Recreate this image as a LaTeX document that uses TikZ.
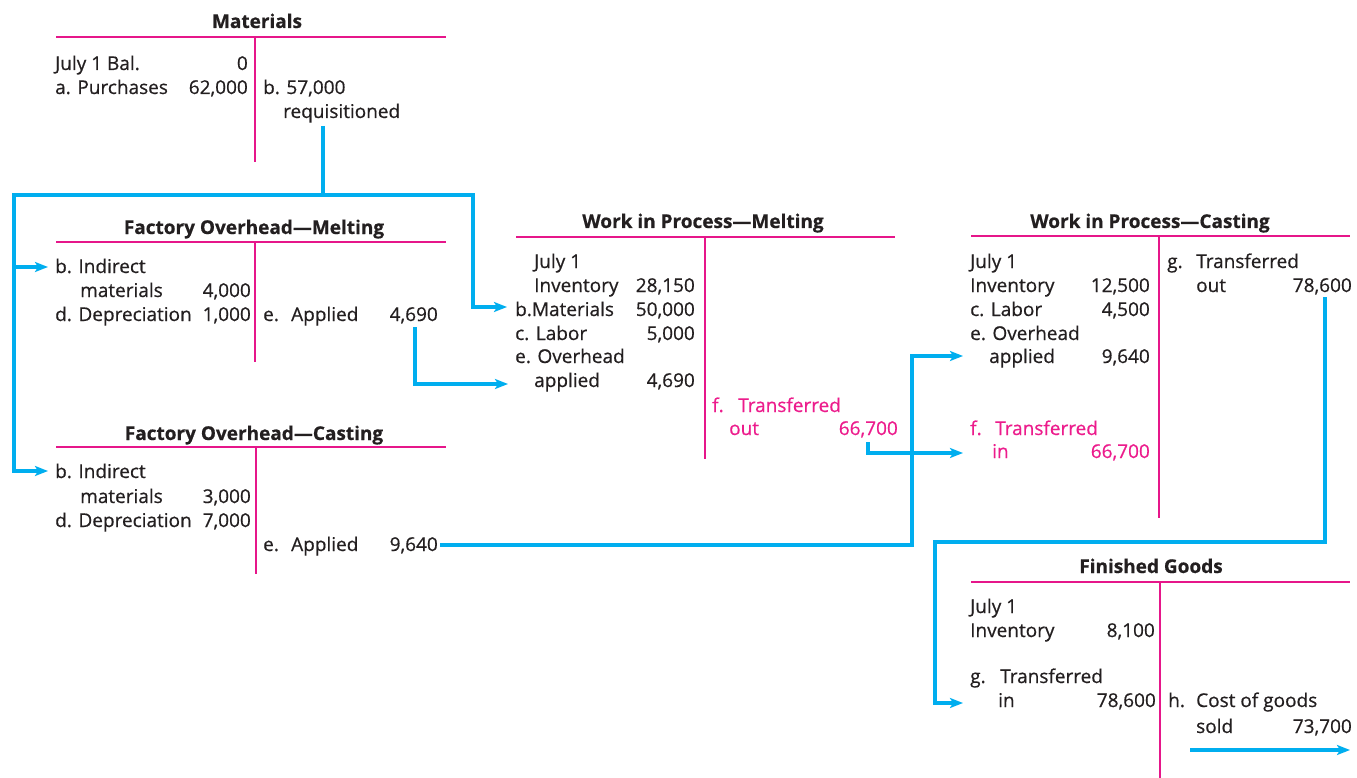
\documentclass[tikz,border=0pt]{standalone}
\usepackage{fontspec}
\setmainfont{Open Sans}[RawFeature={embolden=0.6}]
\usetikzlibrary{arrows.meta}
\definecolor{flow}{HTML}{00AEEF}
\definecolor{rulec}{HTML}{E6168A}
\definecolor{ink}{HTML}{231F20}
\definecolor{pinktxt}{HTML}{EC1C8C}
\newcommand{\lb}[2]{\makebox[#1pt][l]{#2}}
\newcommand{\fs}{\fontsize{19}{22}\selectfont}
\begin{document}
\begin{tikzpicture}[x=1pt,y=-1pt,
  t/.style={anchor=base west,inner sep=0pt,text=ink,font=\fs},
  n/.style={anchor=base east,inner sep=0pt,text=ink,font=\fs},
  hd/.style={anchor=base,inner sep=0pt,text=ink,font=\fs\bfseries},
  pk/.style={text=pinktxt},
  tline/.style={draw=rulec,line width=1.1pt},
  flowline/.style={draw=flow,line width=3.4pt},
  flowarrow/.style={flowline,-{Stealth[length=13pt,width=10pt,inset=3pt]}}
]
\useasboundingbox (0,0) rectangle (1357,778);

% ---------- Materials
\node[hd] (mH) at (257,28) {Materials};
\draw[tline] (56,37) -- (446,37);
\draw[tline] (255,37) -- (255,162);
\node[t] (m1) at (55,70) {July 1 Bal.};
\node[n] (m1n) at (248,70) {0};
\node[t] (m2) at (55,94) {a. Purchases};
\node[n] (m2n) at (248,94) {62,000};
\node[t] (m3) at (263,94) {b. 57,000};
\node[t] (m4) at (283,118) {requisitioned};

% ---------- Factory Overhead - Melting
\node[hd] (fmH) at (254,234) {Factory Overhead—Melting};
\draw[tline] (56,242) -- (446,242);
\draw[tline] (255,242) -- (255,362);
\node[t] (fm1) at (55,273) {b. Indirect};
\node[t] (fm2) at (80,297) {materials};
\node[n] (fm2n) at (251,297) {4,000};
\node[t] (fm3) at (55,321) {d. Depreciation};
\node[n] (fm3n) at (251,321) {1,000};
\node[t] (fm4) at (263,321) {\lb{28}{e.}Applied};
\node[n] (fm4n) at (438,321) {4,690};

% ---------- Factory Overhead - Casting
\node[hd] (fcH) at (254,440) {Factory Overhead—Casting};
\draw[tline] (56,447) -- (446,447);
\draw[tline] (256,447) -- (256,574);
\node[t] (fc1) at (55,478) {b. Indirect};
\node[t] (fc2) at (80,503) {materials};
\node[n] (fc2n) at (251,503) {3,000};
\node[t] (fc3) at (55,527) {d. Depreciation};
\node[n] (fc3n) at (251,527) {7,000};
\node[t] (fc4) at (263,551) {\lb{28}{e.}Applied};
\node[n] (fc4n) at (438,551) {9,640};

% ---------- Work in Process - Melting
\node[hd] (wmH) at (703,228) {Work in Process—Melting};
\draw[tline] (516,237) -- (895,237);
\draw[tline] (705,237) -- (705,459);
\node[t] (wm1) at (534,268) {July 1};
\node[t] (wm2) at (534,292) {Inventory};
\node[n] (wm2n) at (695,292) {28,150};
\node[t] (wm3) at (515,316) {b.Materials};
\node[n] (wm3n) at (695,316) {50,000};
\node[t] (wm4) at (515,340) {c. Labor};
\node[n] (wm4n) at (695,340) {5,000};
\node[t] (wm5) at (515,363) {e. Overhead};
\node[t] (wm6) at (534,387) {applied};
\node[n] (wm6n) at (695,387) {4,690};
\node[t,pk] (wm7) at (712,412) {\lb{26}{f.}Transferred};
\node[t,pk] (wm8) at (729,435) {out};
\node[n,pk] (wm8n) at (898,435) {66,700};

% ---------- Work in Process - Casting
\node[hd] (wcH) at (1150,228) {Work in Process—Casting};
\draw[tline] (971,236) -- (1350,236);
\draw[tline] (1159,236) -- (1159,518);
\node[t] (wc1) at (970,268) {July 1};
\node[t] (wc2) at (970,292) {Inventory};
\node[n] (wc2n) at (1150,292) {12,500};
\node[t] (wc3) at (970,316) {c. Labor};
\node[n] (wc3n) at (1150,316) {4,500};
\node[t] (wc4) at (970,340) {e. Overhead};
\node[t] (wc5) at (989,363) {applied};
\node[n] (wc5n) at (1150,363) {9,640};
\node[t,pk] (wc6) at (970,435) {\lb{25}{f.}Transferred};
\node[t,pk] (wc7) at (992,458) {in};
\node[n,pk] (wc7n) at (1150,458) {66,700};
\node[t] (wc8) at (1167,268) {\lb{29}{g.}Transferred};
\node[t] (wc9) at (1196,292) {out};
\node[n] (wc9n) at (1352,292) {78,600};

% ---------- Finished Goods
\node[hd] (fgH) at (1151,573) {Finished Goods};
\draw[tline] (971,582) -- (1350,582);
\draw[tline] (1160,582) -- (1160,778);
\node[t] (fg1) at (970,613) {July 1};
\node[t] (fg2) at (970,637) {Inventory};
\node[n] (fg2n) at (1155,637) {8,100};
\node[t] (fg3) at (970,683) {\lb{30}{g.}Transferred};
\node[t] (fg4) at (998,707) {in};
\node[n] (fg4n) at (1156,707) {78,600};
\node[t] (fg5) at (1168,707) {\lb{28}{h.}Cost of goods};
\node[t] (fg6) at (1196,733) {sold};
\node[n] (fg6n) at (1352,733) {73,700};

% ---------- flow connectors
\coordinate (a0) at (323,126);
\coordinate (a1) at (323,195);
\coordinate (aL) at (14,471);
\coordinate (aLm) at (14,267);
\coordinate (aR) at (473,307);
\coordinate (tFM) at (48,267);
\coordinate (tFC) at (48,471);
\coordinate (tWM1) at (507,307);
\draw[flowline] (a0) -- (a1);
\draw[flowarrow] (a1) -| (aL) -- (tFC);
\draw[flowarrow] (aLm) -- (tFM);
\draw[flowarrow] (a1) -| (aR) -- (tWM1);

\coordinate (b0) at (415,327);
\coordinate (b1) at (415,384);
\coordinate (tWM2) at (508,384);
\draw[flowarrow] (b0) -- (b1) -- (tWM2);

\coordinate (c0) at (440,545);
\coordinate (c1) at (912,356);
\coordinate (tWC1) at (963,356);
\draw[flowarrow] (c0) -| (c1) -- (tWC1);

\coordinate (d0) at (868,442);
\coordinate (tWC2) at (963,453);
\draw[flowarrow] (d0) |- (tWC2);

\coordinate (e0) at (1325,297);
\coordinate (e1) at (935,542);
\coordinate (e2) at (935,703);
\coordinate (tFG) at (963,703);
\draw[flowarrow] (e0) |- (e1) -- (e2) -- (tFG);

\coordinate (f0) at (1190,750);
\coordinate (f1) at (1350,750);
\draw[flowarrow] (f0) -- (f1);
\end{tikzpicture}
\end{document}
